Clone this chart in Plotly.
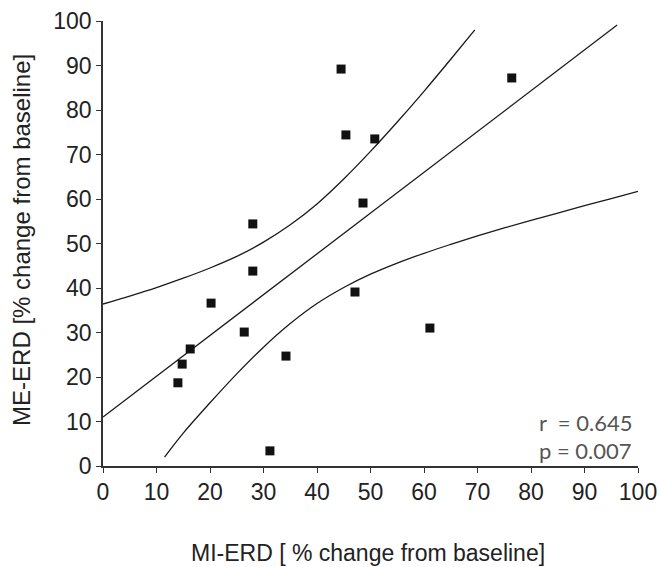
import plotly.graph_objects as go

# Scatter data (MI-ERD vs ME-ERD, % change from baseline)
mi_erd = [14.0, 14.8, 16.3, 20.2, 26.4, 28.0, 28.0, 31.2, 34.2, 47.1, 44.5, 45.4, 50.8, 48.6, 76.4, 61.1]
me_erd = [18.7, 22.9, 26.3, 36.6, 30.1, 43.8, 54.4, 3.4, 24.7, 39.1, 89.2, 74.4, 73.5, 59.1, 87.2, 31.0]

# Regression line
fit_x = [0, 96.1]
fit_y = [11.0, 99.1]

# Upper confidence curve
upper_x = [0, 5, 10, 15, 20, 25, 30, 35, 40, 45, 50, 55, 60, 65, 69.5]
upper_y = [36.4, 38.2, 40.1, 42.2, 44.5, 47.1, 50.3, 54.2, 58.9, 64.5, 70.7, 77.3, 84.2, 91.4, 98.0]

# Lower confidence curve
lower_x = [11.5, 15, 20, 25, 30, 35, 40, 45, 50, 55, 60, 65, 70, 75, 80, 85, 90, 95, 100]
lower_y = [2.0, 7.4, 14.2, 20.7, 26.7, 32.0, 36.5, 40.1, 43.1, 45.6, 47.8, 49.8, 51.7, 53.5, 55.2, 56.8, 58.5, 60.1, 61.7]

ticks = [0, 10, 20, 30, 40, 50, 60, 70, 80, 90, 100]
stats = ["r  = 0.645", "p = 0.007"]

line_style = dict(color="#1a1a1a", width=1.3)

fig = go.Figure()
fig.add_trace(go.Scatter(x=upper_x, y=upper_y, mode="lines", line=dict(**line_style, shape="spline"),
                         showlegend=False, hoverinfo="skip"))
fig.add_trace(go.Scatter(x=lower_x, y=lower_y, mode="lines", line=dict(**line_style, shape="spline"),
                         showlegend=False, hoverinfo="skip"))
fig.add_trace(go.Scatter(x=fit_x, y=fit_y, mode="lines", line=line_style,
                         showlegend=False, hoverinfo="skip"))
fig.add_trace(go.Scatter(x=mi_erd, y=me_erd, mode="markers",
                         marker=dict(symbol="square", size=9, color="#111111"),
                         showlegend=False))

axis_common = dict(
    range=[0, 100], tickvals=ticks, ticktext=[str(t) for t in ticks],
    showgrid=False, zeroline=False, showline=True, linecolor="#333333", linewidth=1.5,
    ticks="outside", ticklen=5, tickwidth=1.3, tickcolor="#333333",
    tickfont=dict(family="Liberation Sans, Arial", size=23, color="#222222"),
    fixedrange=True, automargin=False,
)

fig.update_layout(
    width=660, height=567,
    margin=dict(l=103, r=22, t=21, b=101),
    paper_bgcolor="white", plot_bgcolor="white",
    xaxis=dict(**axis_common),
    yaxis=dict(**axis_common),
    annotations=[
        dict(text="MI-ERD [ % change from baseline]", xref="paper", yref="paper",
             x=0.495, y=-0.195, xanchor="center", yanchor="middle", showarrow=False,
             font=dict(family="Liberation Sans, Arial", size=23, color="#222222")),
        dict(text="ME-ERD [% change from baseline]", xref="paper", yref="paper",
             x=-0.1514, y=0.508, xanchor="center", yanchor="middle", showarrow=False,
             textangle=-90,
             font=dict(family="Liberation Sans, Arial", size=24, color="#222222")),
        dict(text=stats[0], xref="x", yref="y", x=81.2, y=9.7, xanchor="left", yanchor="middle",
             showarrow=False, font=dict(family="Lato, Liberation Sans", size=22, color="#555555")),
        dict(text=stats[1], xref="x", yref="y", x=81.2, y=3.4, xanchor="left", yanchor="middle",
             showarrow=False, font=dict(family="Lato, Liberation Sans", size=22, color="#555555")),
    ],
)

fig.write_html("out.html")
